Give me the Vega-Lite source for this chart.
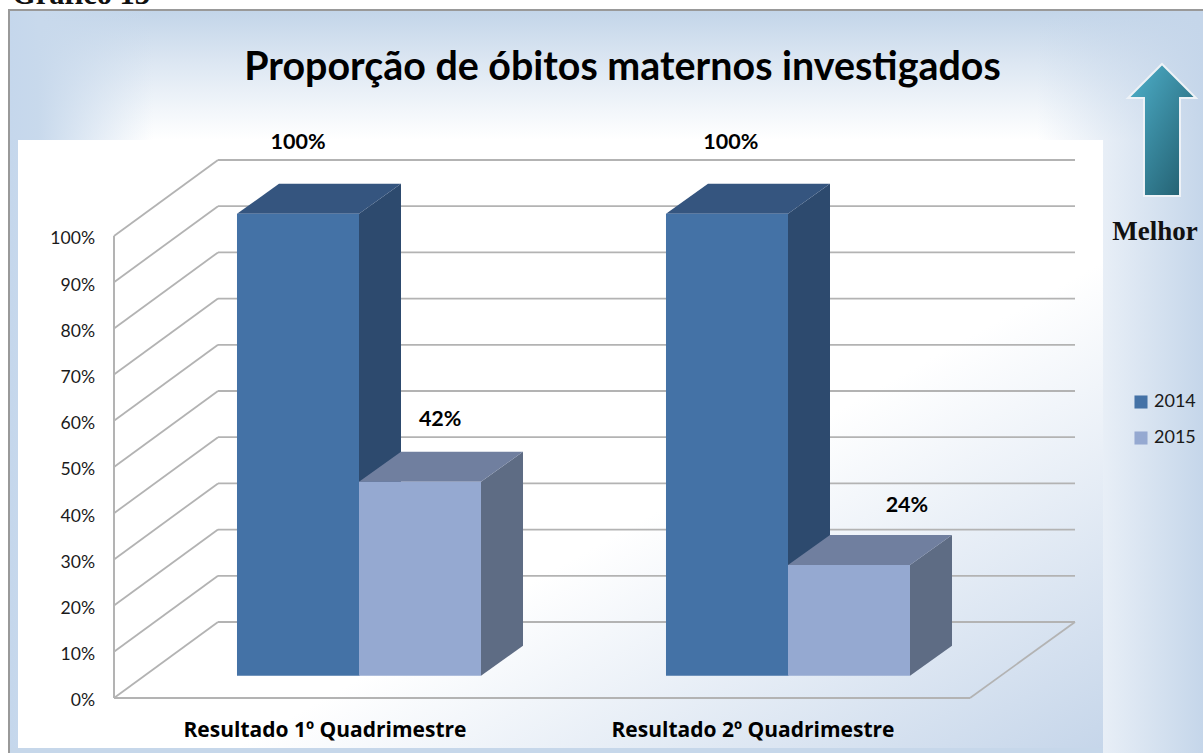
{
"$schema":"https://vega.github.io/schema/vega-lite/v6.json",
"width":1203,"height":753,"padding":0,"autosize":"none","background":"#ffffff",
"config":{"view":{"stroke":null},"font":"Lato"},
"title":{"text":"Proporção de óbitos maternos investigados","font":"Lato","fontSize":39.4,"fontWeight":"bold","color":"#000000","anchor":"middle","frame":"group","dx":21,"offset":-78,"dy":61,"baseline":"alphabetic"},
"datasets":{
"barras":[
{"quadrimestre":"Resultado 1º Quadrimestre","ano":"2014","valor":100},
{"quadrimestre":"Resultado 1º Quadrimestre","ano":"2015","valor":42},
{"quadrimestre":"Resultado 2º Quadrimestre","ano":"2014","valor":100},
{"quadrimestre":"Resultado 2º Quadrimestre","ano":"2015","valor":24}],
"grade":[{"pct":0},{"pct":10},{"pct":20},{"pct":30},{"pct":40},{"pct":50},{"pct":60},{"pct":70},{"pct":80},{"pct":90},{"pct":100}],
"um":[{"item":"painel"}]
},
"layer":[
{"data":{"name":"um"},"mark":{"type":"rect","fill":"#ffffff","stroke":"#999999","strokeWidth":2},
 "encoding":{"x":{"datum":0.18415,"type":"quantitative","scale":{"domain":[0.16317,2.96737],"nice":false,"zero":false},"axis":null},"x2":{"datum":2.99},
 "y":{"datum":148.92,"type":"quantitative","scale":{"domain":[-11.905,151.082],"nice":false,"zero":false},"axis":null},"y2":{"datum":-13}}},
{"data":{"name":"um"},"mark":{"type":"rect","fill":{"gradient":"linear","x1":0,"y1":0,"x2":0,"y2":1,"stops":[{"offset":0,"color":"#c3d5e9"},{"offset":1,"color":"rgba(200,217,235,0)"}]}},
 "encoding":{"x":{"datum":0.18648,"type":"quantitative","scale":{"domain":[0.16317,2.96737],"nice":false,"zero":false},"axis":null},"x2":{"datum":2.96737},
 "y":{"datum":148.7,"type":"quantitative","scale":{"domain":[-11.905,151.082],"nice":false,"zero":false},"axis":null},"y2":{"datum":120.78}}},
{"data":{"name":"um"},"mark":{"type":"rect","fill":{"gradient":"linear","x1":0,"y1":0,"x2":1,"y2":0,"stops":[{"offset":0,"color":"#c5d7ec"},{"offset":0.2,"color":"#c8d9ec"},{"offset":1,"color":"rgba(200,217,236,0)"}]}},
 "encoding":{"x":{"datum":0.18648,"type":"quantitative","scale":{"domain":[0.16317,2.96737],"nice":false,"zero":false},"axis":null},"x2":{"datum":0.52},
 "y":{"datum":148.7,"type":"quantitative","scale":{"domain":[-11.905,151.082],"nice":false,"zero":false},"axis":null},"y2":{"datum":-11.905}}},
{"data":{"name":"um"},"mark":{"type":"rect","fill":{"gradient":"linear","x1":0,"y1":0,"x2":1,"y2":0,"stops":[{"offset":0,"color":"rgba(197,214,234,0)"},{"offset":1,"color":"#c5d6ea"}]}},
 "encoding":{"x":{"datum":2.58,"type":"quantitative","scale":{"domain":[0.16317,2.96737],"nice":false,"zero":false},"axis":null},"x2":{"datum":2.96737},
 "y":{"datum":148.7,"type":"quantitative","scale":{"domain":[-11.905,151.082],"nice":false,"zero":false},"axis":null},"y2":{"datum":-11.905}}},
{"data":{"name":"um"},"mark":{"type":"rect","fill":"#c6d7ea"},
 "encoding":{"x":{"datum":0.18648,"type":"quantitative","scale":{"domain":[0.16317,2.96737],"nice":false,"zero":false},"axis":null},"x2":{"datum":2.73427},
 "y":{"datum":-10.82,"type":"quantitative","scale":{"domain":[-11.905,151.082],"nice":false,"zero":false},"axis":null},"y2":{"datum":-11.905}}},
{"data":{"name":"um"},"mark":{"type":"rect","fill":{"gradient":"linear","x1":0,"y1":0,"x2":1,"y2":1,"stops":[{"offset":0,"color":"#ffffff"},{"offset":0.6,"color":"#ffffff"},{"offset":1,"color":"#c6d6ea"}]}},
 "encoding":{"x":{"datum":0.20513,"type":"quantitative","scale":{"domain":[0.16317,2.96737],"nice":false,"zero":false},"axis":null},"x2":{"datum":2.73427},
 "y":{"datum":120.78,"type":"quantitative","scale":{"domain":[-11.905,151.082],"nice":false,"zero":false},"axis":null},"y2":{"datum":-10.82}}},
{"data":{"name":"grade"},"transform":[{"calculate":"datum.pct+16.45","as":"pctFundo"}],"mark":{"type":"rule","color":"#b3b3b3","strokeWidth":1.8},
 "encoding":{"x":{"datum":0.4289,"type":"quantitative","scale":{"domain":[0.16317,2.96737],"nice":false,"zero":false},"axis":null},"x2":{"datum":0.67133},
 "y":{"field":"pct","type":"quantitative","scale":{"domain":[-11.905,151.082],"nice":false,"zero":false},"axis":null},"y2":{"field":"pctFundo"}}},
{"data":{"name":"grade"},"transform":[{"calculate":"datum.pct+16.45","as":"pctFundo"}],"mark":{"type":"rule","color":"#b3b3b3","strokeWidth":1.8},
 "encoding":{"x":{"datum":0.67133,"type":"quantitative","scale":{"domain":[0.16317,2.96737],"nice":false,"zero":false},"axis":null},"x2":{"datum":2.669},
 "y":{"field":"pctFundo","type":"quantitative","scale":{"domain":[-11.905,151.082],"nice":false,"zero":false},"axis":null}}},
{"data":{"name":"um"},"mark":{"type":"rule","color":"#b3b3b3","strokeWidth":2},
 "encoding":{"x":{"datum":0.4289,"type":"quantitative","scale":{"domain":[0.16317,2.96737],"nice":false,"zero":false},"axis":null},
 "y":{"datum":0,"type":"quantitative","scale":{"domain":[-11.905,151.082],"nice":false,"zero":false},"axis":null},"y2":{"datum":100}}},
{"data":{"name":"um"},"mark":{"type":"rule","color":"#b3b3b3","strokeWidth":2},
 "encoding":{"x":{"datum":0.4289,"type":"quantitative","scale":{"domain":[0.16317,2.96737],"nice":false,"zero":false},"axis":null},"x2":{"datum":2.42424},
 "y":{"datum":0,"type":"quantitative","scale":{"domain":[-11.905,151.082],"nice":false,"zero":false},"axis":null}}},
{"data":{"name":"um"},"mark":{"type":"rule","color":"#b3b3b3","strokeWidth":1.8},
 "encoding":{"x":{"datum":2.42424,"type":"quantitative","scale":{"domain":[0.16317,2.96737],"nice":false,"zero":false},"axis":null},"x2":{"datum":2.669},
 "y":{"datum":0,"type":"quantitative","scale":{"domain":[-11.905,151.082],"nice":false,"zero":false},"axis":null},"y2":{"datum":16.45}}},
{"data":{"name":"barras"},
 "transform":[
 {"calculate":"test(/1º/,datum.quadrimestre)?1:2","as":"grupo"},
 {"calculate":"datum.grupo+(datum.ano=='2014'?-0.2844:0)","as":"x0"},
 {"calculate":"datum.x0+0.2844","as":"x1"},
 {"calculate":"datum.valor+4.8","as":"topo"},
 {"calculate":"4.8","as":"base"},
 {"calculate":"datum.quadrimestre+datum.ano","as":"id"},
 {"calculate":"[0,1]","as":"t"},
 {"flatten":["t"]},
 {"calculate":"datum.x1+datum.t*0.0979","as":"ladoX"},
 {"calculate":"datum.topo+datum.t*6.5","as":"ladoTopo"},
 {"calculate":"datum.base+datum.t*6.5","as":"ladoBase"},
 {"calculate":"datum.x0+datum.t*0.0979","as":"tampaX0"}
 ],
 "layer":[
 {"mark":{"type":"area","orient":"vertical"},
  "encoding":{"x":{"field":"ladoX","type":"quantitative","scale":{"domain":[0.16317,2.96737],"nice":false,"zero":false},"axis":null},
  "y":{"field":"ladoTopo","type":"quantitative","stack":null,"scale":{"domain":[-11.905,151.082],"nice":false,"zero":false},"axis":null},"y2":{"field":"ladoBase"},
  "detail":{"field":"id"},
  "fill":{"condition":{"test":"datum.ano=='2014'","value":"#2d4a6e"},"value":"#5e6c84"}}},
 {"mark":{"type":"area","orient":"horizontal"},
  "encoding":{"y":{"field":"ladoTopo","type":"quantitative","scale":{"domain":[-11.905,151.082],"nice":false,"zero":false},"axis":null},
  "x":{"field":"tampaX0","type":"quantitative","stack":null,"scale":{"domain":[0.16317,2.96737],"nice":false,"zero":false},"axis":null},"x2":{"field":"ladoX"},
  "detail":{"field":"id"},
  "fill":{"condition":{"test":"datum.ano=='2014'","value":"#35557f"},"value":"#707f9f"}}},
 {"transform":[{"filter":"datum.t==0"}],"mark":{"type":"rect"},
  "encoding":{"x":{"field":"x0","type":"quantitative","scale":{"domain":[0.16317,2.96737],"nice":false,"zero":false},"axis":null},
  "x2":{"field":"x1"},
  "y":{"field":"topo","type":"quantitative","scale":{"domain":[-11.905,151.082],"nice":false,"zero":false},"axis":null},
  "y2":{"field":"base"},
  "color":{"field":"ano","type":"nominal","scale":{"domain":["2014","2015"],"range":["#4472a6","#95a9d1"]},
   "legend":{"orient":"none","legendX":1132,"legendY":393,"title":null,"symbolType":"square","symbolSize":170,"symbolStrokeWidth":0,"labelFont":"Lato","labelFontSize":18,"labelColor":"#1a1a1a","rowPadding":18,"labelOffset":4}}}},
 {"transform":[{"filter":"datum.t==0"},
  {"calculate":"datum.x0+0.1422+(datum.ano=='2014'?(datum.grupo==1?0:0.009):(datum.grupo==1?0.047:0.135))","as":"rotuloX"},
  {"calculate":"datum.valor+(datum.ano=='2014'?20.1:(datum.grupo==1?18.2:17.6))","as":"rotuloY"},
  {"calculate":"datum.valor+'%'","as":"rotulo"}],
  "mark":{"type":"text","font":"Lato","fontWeight":"bold","fontSize":21.5,"color":"#000000","baseline":"middle","align":"center"},
  "encoding":{"x":{"field":"rotuloX","type":"quantitative","scale":{"domain":[0.16317,2.96737],"nice":false,"zero":false},"axis":null},
  "y":{"field":"rotuloY","type":"quantitative","scale":{"domain":[-11.905,151.082],"nice":false,"zero":false},"axis":null},
  "text":{"field":"rotulo"}}}
 ]},
{"data":{"name":"grade"},"transform":[{"calculate":"datum.pct+'%'","as":"rotulo"}],
 "mark":{"type":"text","font":"Lato","fontSize":17.6,"color":"#1a1a1a","align":"right","baseline":"middle","dy":3.5},
 "encoding":{"x":{"datum":0.3846,"type":"quantitative","scale":{"domain":[0.16317,2.96737],"nice":false,"zero":false},"axis":null},
 "y":{"field":"pct","type":"quantitative","scale":{"domain":[-11.905,151.082],"nice":false,"zero":false},"axis":null},
 "text":{"field":"rotulo"}}},
{"data":{"name":"barras"},"transform":[{"aggregate":[{"op":"count","as":"n"}],"groupby":["quadrimestre"]},{"calculate":"test(/1º/,datum.quadrimestre)?0.92075:1.91841","as":"rotuloX"}],
 "mark":{"type":"text","font":"Open Sans","fontSize":21,"fontWeight":"bold","color":"#000000","align":"center","baseline":"middle","dy":2},
 "encoding":{"x":{"field":"rotuloX","type":"quantitative","scale":{"domain":[0.16317,2.96737],"nice":false,"zero":false},"axis":null},
 "y":{"datum":-6.7,"type":"quantitative","scale":{"domain":[-11.905,151.082],"nice":false,"zero":false},"axis":null},
 "text":{"field":"quadrimestre"}}},
{"data":{"name":"um"},"mark":{"type":"point","filled":true,"opacity":1,"size":17424,"shape":"M0,-1 L.515,-.485 L.273,-.485 L.273,1 L-.273,1 L-.273,-.485 L-.515,-.485 Z","fill":{"gradient":"linear","x1":0,"y1":0,"x2":1,"y2":1,"stops":[{"offset":0,"color":"#4fb2cd"},{"offset":1,"color":"#1f5868"}]},"stroke":"#eef2f7","strokeWidth":2},
 "encoding":{"x":{"datum":2.87179,"type":"quantitative","scale":{"domain":[0.16317,2.96737],"nice":false,"zero":false},"axis":null},
 "y":{"datum":122.94,"type":"quantitative","scale":{"domain":[-11.905,151.082],"nice":false,"zero":false},"axis":null}}},
{"data":{"name":"um"},"mark":{"type":"text","text":"Melhor","font":"Liberation Serif","fontWeight":"bold","fontSize":27,"color":"#111111","align":"center","baseline":"middle"},
 "encoding":{"x":{"datum":2.8555,"type":"quantitative","scale":{"domain":[0.16317,2.96737],"nice":false,"zero":false},"axis":null},
 "y":{"datum":100.9,"type":"quantitative","scale":{"domain":[-11.905,151.082],"nice":false,"zero":false},"axis":null}}},
{"data":{"name":"um"},"mark":{"type":"text","text":"Gráfico 13","font":"Liberation Serif","fontWeight":"bold","fontSize":30.5,"color":"#111111","align":"left","baseline":"alphabetic"},
 "encoding":{"x":{"datum":0.19114,"type":"quantitative","scale":{"domain":[0.16317,2.96737],"nice":false,"zero":false},"axis":null},
 "y":{"datum":150.2,"type":"quantitative","scale":{"domain":[-11.905,151.082],"nice":false,"zero":false},"axis":null}}}
]
}
